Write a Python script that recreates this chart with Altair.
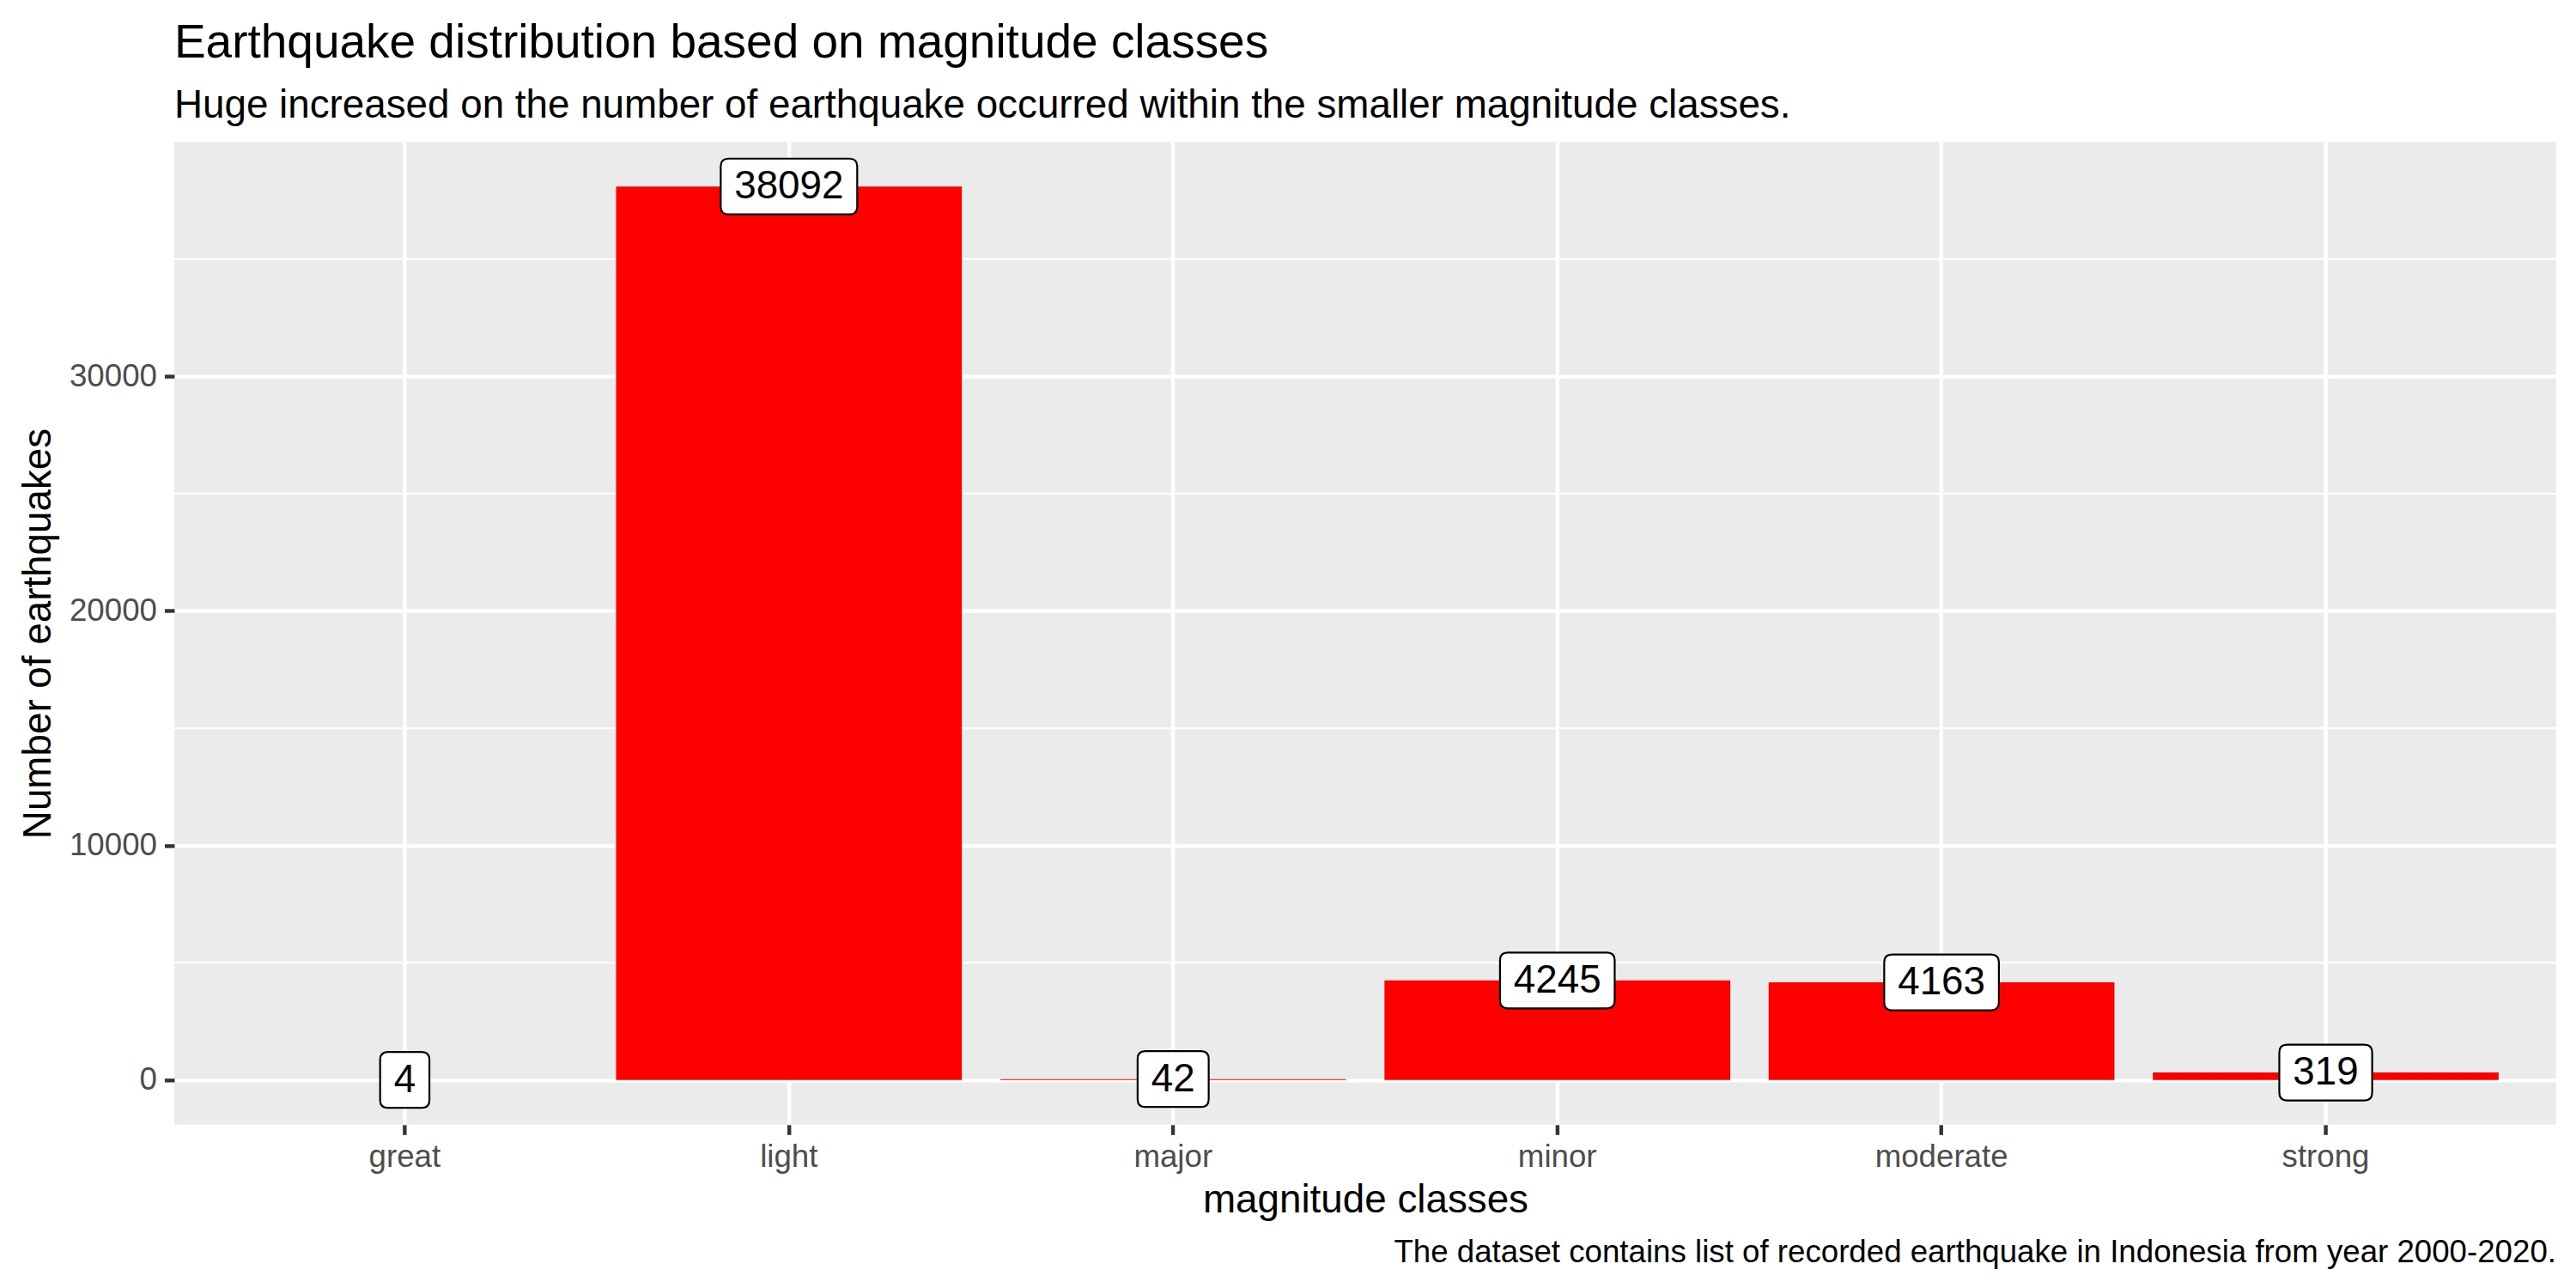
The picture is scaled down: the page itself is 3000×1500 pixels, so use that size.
import altair as alt
import pandas as pd

categories = ["great", "light", "major", "minor", "moderate", "strong"]
counts = [4, 38092, 42, 4245, 4163, 319]
y_ticks = [0, 10000, 20000, 30000]
y_minor = [5000, 15000, 25000, 35000]

TITLE = "Earthquake distribution based on magnitude classes"
SUBTITLE = "Huge increased on the number of earthquake occurred within the smaller magnitude classes."
CAPTION = "The dataset contains list of recorded earthquake in Indonesia from year 2000-2020."

FONT = "Liberation Sans"
W, H = 2775, 1145
UNIT = 80.0  # px per custom-symbol unit (sqrt(size)/2)


def box_path(nchar):
    w = 25.4 * nchar + 32.0
    h = 65.0
    r = 9.0
    a, b, rr = w / 2 / UNIT, h / 2 / UNIT, r / UNIT
    f = lambda v: f"{v:.4f}"
    return (
        f"M{f(-a+rr)},{f(-b)}L{f(a-rr)},{f(-b)}Q{f(a)},{f(-b)} {f(a)},{f(-b+rr)}"
        f"L{f(a)},{f(b-rr)}Q{f(a)},{f(b)} {f(a-rr)},{f(b)}"
        f"L{f(-a+rr)},{f(b)}Q{f(-a)},{f(b)} {f(-a)},{f(b-rr)}"
        f"L{f(-a)},{f(-b+rr)}Q{f(-a)},{f(-b)} {f(-a+rr)},{f(-b)}Z"
    )


df = pd.DataFrame({"cls": categories, "n": counts})
df["shape"] = [box_path(len(str(v))) for v in counts]

lo, hi = 0, max(counts)
pad = (hi - lo) * 0.05

x_enc = alt.X(
    "cls:N",
    sort=categories,
    scale=alt.Scale(paddingInner=0.1, paddingOuter=0.15),
    axis=alt.Axis(
        title="magnitude classes",
        labelAngle=0,
        labelFontSize=36.7,
        labelColor="#4D4D4D",
        labelFont=FONT,
        labelPadding=8,
        tickColor="#333333",
        tickWidth=4.4,
        tickSize=11.5,
        domain=False,
        grid=True,
        gridColor="white",
        gridWidth=4.4,
        titleFontSize=45.8,
        titleFont=FONT,
        titleFontWeight="normal",
        titleColor="black",
        titlePadding=10,
    ),
)
y_scale = alt.Scale(domain=[lo - pad, hi + pad], nice=False, zero=False)
y_enc = alt.Y(
    "n:Q",
    scale=y_scale,
    axis=alt.Axis(
        title="Number of earthquakes",
        values=y_ticks,
        format="d",
        labelFontSize=36.7,
        labelColor="#4D4D4D",
        labelFont=FONT,
        labelPadding=9,
        tickColor="#333333",
        tickWidth=4.4,
        tickSize=11.5,
        domain=False,
        grid=True,
        gridColor="white",
        gridWidth=4.4,
        titleFontSize=45.8,
        titleFont=FONT,
        titleFontWeight="normal",
        titleColor="black",
        titlePadding=12,
    ),
)

minor = (
    alt.Chart(pd.DataFrame({"m": y_minor}))
    .mark_rule(color="white", strokeWidth=2.2)
    .encode(y=alt.Y("m:Q", scale=y_scale))
)

base = alt.Chart(df)

bars = base.mark_bar(color="#FF0000").encode(x=x_enc, y=y_enc, y2=alt.datum(0))

boxes = base.mark_point(
    filled=True, fill="white", stroke="black", strokeWidth=2.2, opacity=1, size=(2 * UNIT) ** 2
).encode(
    x=alt.X("cls:N", sort=categories),
    y=alt.Y("n:Q"),
    shape=alt.Shape("shape:N", scale=None),
)

labels = base.mark_text(fontSize=45.8, font=FONT, color="black", baseline="middle").encode(
    x=alt.X("cls:N", sort=categories),
    y=alt.Y("n:Q"),
    text=alt.Text("n:Q", format="d"),
)

caption = (
    alt.Chart(pd.DataFrame({"t": [CAPTION]}))
    .mark_text(align="right", baseline="alphabetic", fontSize=36.7, font=FONT, color="black")
    .encode(x=alt.value(W), y=alt.value(1305), text="t:N")
)

chart = (
    alt.layer(minor, bars, boxes, labels, caption)
    .properties(
        width=W,
        height=H,
        background="white",
        autosize=alt.AutoSizeParams(type="none"),
        padding={"left": 195, "top": 157, "right": 15, "bottom": 182},
        title=alt.TitleParams(
            text=TITLE,
            subtitle=SUBTITLE,
            anchor="start",
            frame="group",
            font=FONT,
            fontSize=55,
            fontWeight="normal",
            color="black",
            subtitleFont=FONT,
            subtitleFontSize=45.8,
            subtitleColor="black",
            subtitlePadding=22,
            offset=18,
        ),
    )
    .configure_view(fill="#EBEBEB", stroke=None)
)

chart.save("out.html", embed_options={"renderer": "svg", "actions": False})
